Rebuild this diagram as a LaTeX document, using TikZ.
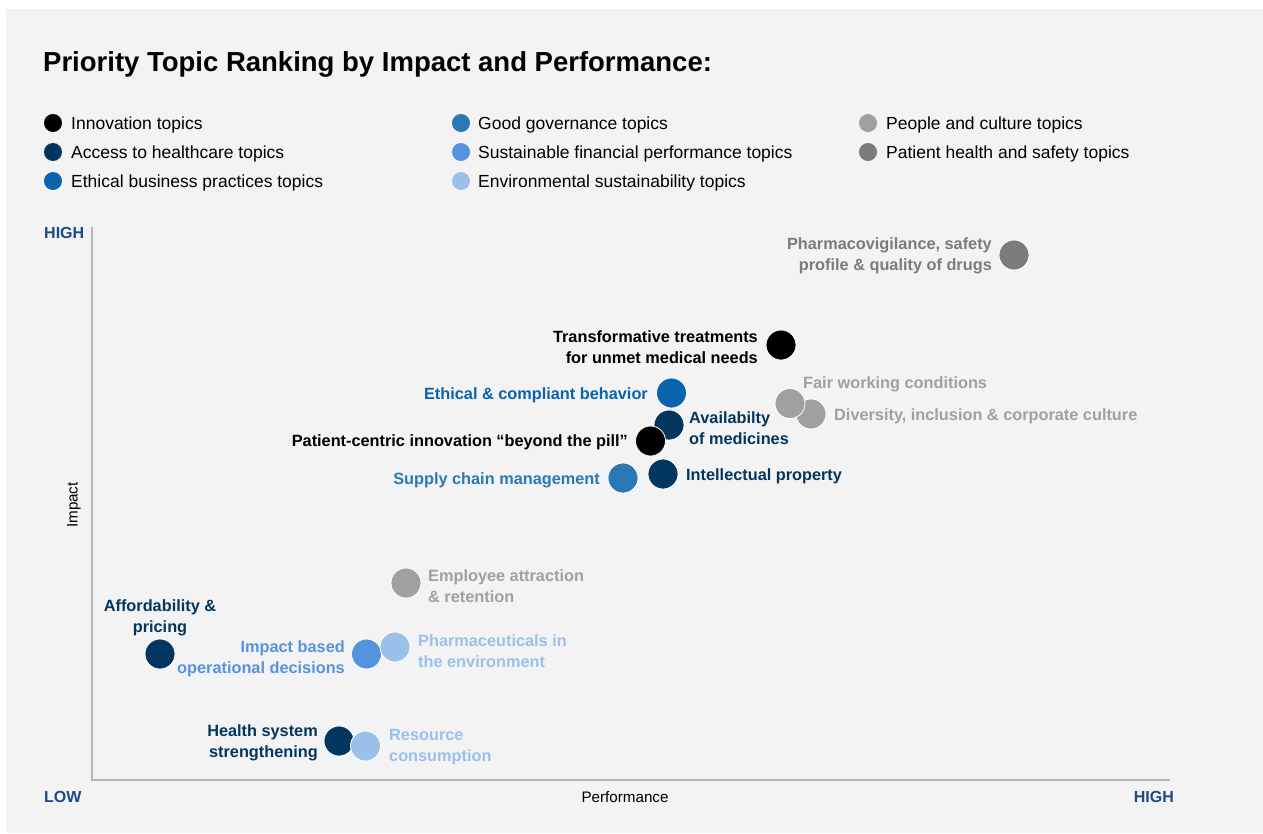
\documentclass[tikz,border=0pt]{standalone}
\usepackage{fontspec}
\setmainfont{Liberation Sans}
\definecolor{panel}{HTML}{F3F3F3}
\definecolor{axisgray}{HTML}{B5B5B5}
\definecolor{hilo}{HTML}{1B4A86}
\definecolor{cinnov}{HTML}{000000}
\definecolor{caccess}{HTML}{03365F}
\definecolor{cethic}{HTML}{0A63AC}
\definecolor{cgovern}{HTML}{2B78B7}
\definecolor{cfinance}{HTML}{5593DF}
\definecolor{cenv}{HTML}{9BC0EA}
\definecolor{cpeople}{HTML}{A0A0A0}
\definecolor{csafety}{HTML}{7B7B7B}
\begin{document}
\begin{tikzpicture}[x=1pt,y=-1pt,
  dotnode/.style={circle, fill=#1, draw=white, line width=0.8pt, minimum size=30pt, inner sep=0pt},
  legdot/.style={circle, fill=#1, minimum size=18pt, inner sep=0pt},
  lbl/.style={font=\fontsize{16.3}{21}\selectfont\bfseries, inner sep=0pt, text=#1, yshift=-1.5pt},
  legtxt/.style={font=\fontsize{17.5}{20}\selectfont, inner sep=0pt, anchor=west, yshift=-1.5pt},
  hl/.style={font=\fontsize{16}{20}\selectfont\bfseries, text=hilo, inner sep=0pt},
  axlbl/.style={font=\fontsize{15.2}{18}\selectfont, inner sep=0pt}
]
\useasboundingbox (0,0) rectangle (1263,833);
\fill[white] (0,0) rectangle (1263,833);
\fill[panel] (6,9) rectangle (1263,833);

% title
\node[anchor=base west, inner sep=0pt, font=\fontsize{27.5}{32}\selectfont\bfseries] (title) at (43,71) {Priority Topic Ranking by Impact and Performance:};

% legend
\node[legdot=cinnov] (l1) at (53,123) {};
\node[legtxt] (t1) at (71,123) {Innovation topics};
\node[legdot=caccess] (l2) at (53,152) {};
\node[legtxt] (t2) at (71,152) {Access to healthcare topics};
\node[legdot=cethic] (l3) at (53,181) {};
\node[legtxt] (t3) at (71,181) {Ethical business practices topics};
\node[legdot=cgovern] (l4) at (461,123) {};
\node[legtxt] (t4) at (478,123) {Good governance topics};
\node[legdot=cfinance] (l5) at (461,152) {};
\node[legtxt] (t5) at (478,152) {Sustainable financial performance topics};
\node[legdot=cenv] (l6) at (461,181) {};
\node[legtxt] (t6) at (478,181) {Environmental sustainability topics};
\node[legdot=cpeople] (l7) at (868,123) {};
\node[legtxt] (t7) at (886,123) {People and culture topics};
\node[legdot=csafety] (l8) at (868,152) {};
\node[legtxt] (t8) at (886,152) {Patient health and safety topics};

% axes
\coordinate (top) at (92,227);
\coordinate (origin) at (92,780);
\coordinate (right) at (1170,780);
\draw[axisgray, line width=1.5pt] (top) -- (origin) -- (right);
\node[hl, anchor=west] (yhigh) at (44,233) {HIGH};
\node[hl, anchor=west] (low) at (44,797) {LOW};
\node[hl, anchor=east] (xhigh) at (1174,797) {HIGH};
\node[axlbl] (perf) at (625,797) {Performance};
\node[axlbl, rotate=90] (imp) at (74,505) {Impact};

% data points
\node[dotnode=csafety] (pv) at (1014,255) {};
\node[lbl=csafety, anchor=east, align=right] (pvl) at (992,254) {Pharmacovigilance, safety\\profile \& quality of drugs};

\node[dotnode=cinnov] (tt) at (781,345) {};
\node[lbl=cinnov, anchor=east, align=right] (ttl) at (758,346) {Transformative treatments\\for unmet medical needs};

\node[dotnode=cethic] (ec) at (671.5,393) {};
\node[lbl=cethic, anchor=east] (ecl) at (648,394) {Ethical \& compliant behavior};

\node[dotnode=caccess] (av) at (669,425) {};
\node[lbl=caccess, anchor=west, align=left] (avl) at (689,427) {Availabilty\\of medicines};

\node[dotnode=cinnov] (pc) at (650.5,441) {};
\node[lbl=cinnov, anchor=east] (pcl) at (628,441) {Patient-centric innovation “beyond the pill”};

\node[dotnode=cgovern] (sc) at (623,478) {};
\node[lbl=cgovern, anchor=east] (scl) at (600,479) {Supply chain management};

\node[dotnode=caccess] (ip) at (663,474) {};
\node[lbl=caccess, anchor=west] (ipl) at (686,475) {Intellectual property};

\node[dotnode=cpeople] (dv) at (811,414) {};
\node[lbl=cpeople, anchor=west] (dvl) at (834,415) {Diversity, inclusion \& corporate culture};
\node[dotnode=cpeople] (fw) at (790,403.5) {};
\node[lbl=cpeople, anchor=west] (fwl) at (803,383) {Fair working conditions};

\node[dotnode=cpeople] (ea) at (406,583) {};
\node[lbl=cpeople, anchor=west, align=left] (eal) at (428,585) {Employee attraction\\\& retention};

\node[dotnode=caccess] (af) at (160,654) {};
\node[lbl=caccess, align=center] (afl) at (160,616) {Affordability \&\\pricing};

\node[dotnode=cfinance] (ib) at (366.5,654) {};
\node[lbl=cfinance, anchor=east, align=right] (ibl) at (345,657) {Impact based\\operational decisions};
\node[dotnode=cenv] (pe) at (395,647) {};
\node[lbl=cenv, anchor=west, align=left] (pel) at (418,650) {Pharmaceuticals in\\the environment};

\node[dotnode=caccess] (hs) at (339,741) {};
\node[lbl=caccess, anchor=east, align=right] (hsl) at (318,741) {Health system\\strengthening};
\node[dotnode=cenv] (rc) at (365.5,746) {};
\node[lbl=cenv, anchor=west, align=left] (rcl) at (389,746) {Resource\\consumption};
\end{tikzpicture}
\end{document}
